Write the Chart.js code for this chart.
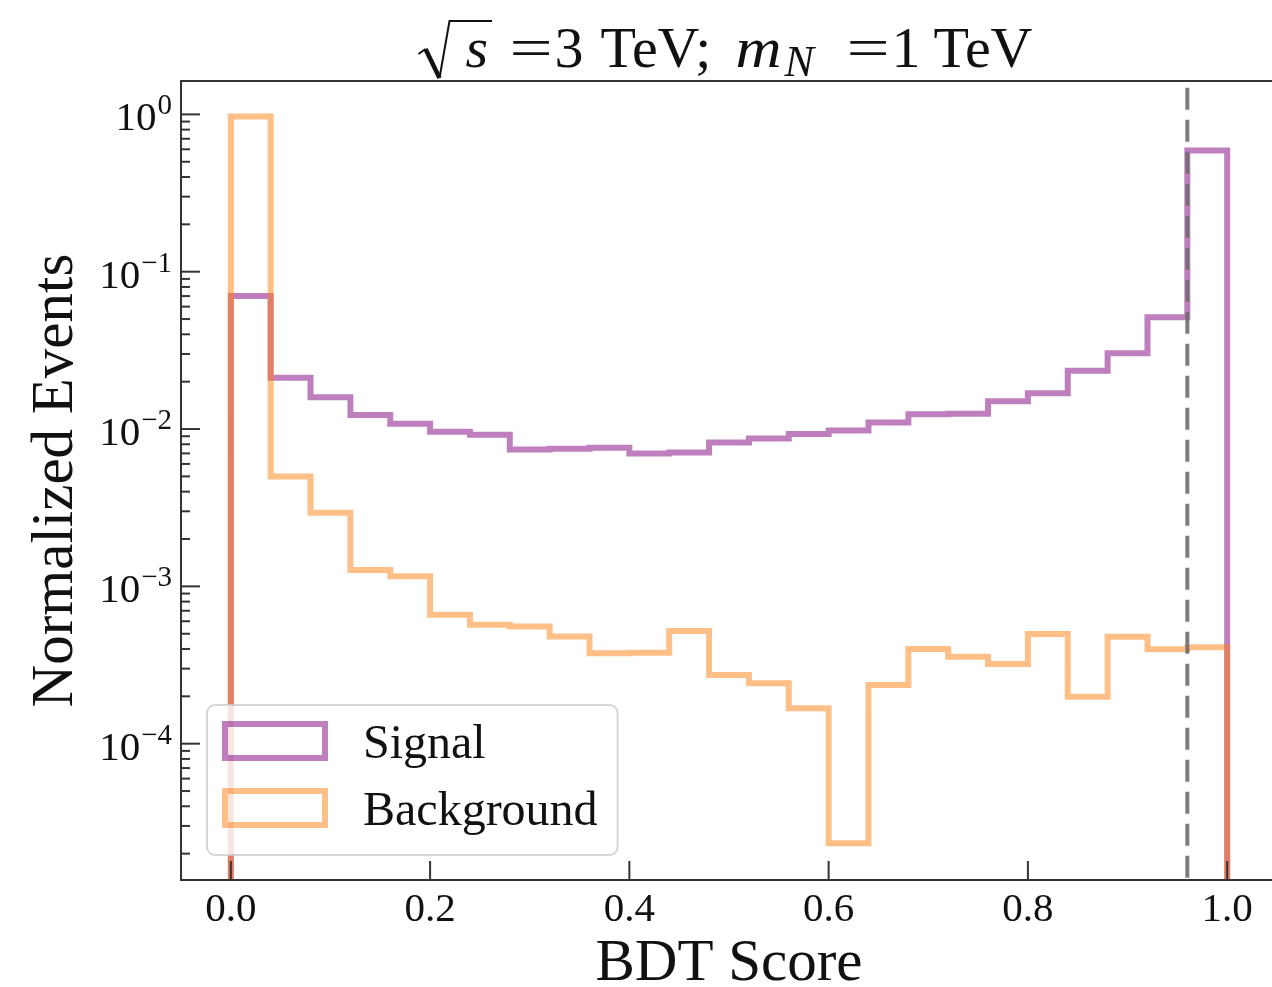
<!DOCTYPE html>
<html>
<head>
<meta charset="utf-8">
<script src="https://cdn.jsdelivr.net/npm/chart.js@4.4.1/dist/chart.umd.min.js"></script>
<style>
  html, body { margin: 0; padding: 0; overflow: hidden; background: #fff; }
  #wrap { position: absolute; left: 0; top: 0; width: 1290px; height: 987px; }
</style>
</head>
<body>
<div id="wrap"><canvas id="graficoBDT" width="1290" height="987"></canvas></div>
<script>
const binEdges = [0.00, 0.04, 0.08, 0.12, 0.16, 0.20, 0.24, 0.28, 0.32, 0.36, 0.40, 0.44, 0.48,
  0.52, 0.56, 0.60, 0.64, 0.68, 0.72, 0.76, 0.80, 0.84, 0.88, 0.92, 0.96, 1.00];
const signal = [0.070, 0.0212, 0.0159, 0.0123, 0.0108, 0.0096, 0.0092, 0.0074, 0.0075, 0.0076,
  0.0070, 0.0071, 0.0082, 0.0087, 0.0093, 0.0098, 0.0110, 0.0124, 0.0125, 0.0150, 0.0169,
  0.0235, 0.0303, 0.0514, 0.59];
const background = [0.97, 5.0e-3, 2.94e-3, 1.27e-3, 1.16e-3, 6.6e-4, 5.7e-4, 5.55e-4, 4.8e-4, 3.76e-4,
  3.79e-4, 5.2e-4, 2.73e-4, 2.42e-4, 1.68e-4, 2.33e-5, 2.36e-4, 4.0e-4, 3.57e-4, 3.21e-4,
  4.98e-4, 1.99e-4, 4.79e-4, 3.98e-4, 4.1e-4];
const seriesNames = ["Signal", "Background"];
const xTicks = [0.0, 0.2, 0.4, 0.6, 0.8, 1.0];
const yDecades = [0, -1, -2, -3, -4];
const cutValue = 0.96;
const xRange = [-0.05, 1.05];
const yRange = [1.36e-5, 1.63];

const piso = 1e-8; // por debajo del eje, se recorta

function pasos(valores) {
  const pts = [{ x: binEdges[0], y: piso }];
  valores.forEach((v, i) => {
    pts.push({ x: binEdges[i], y: v });
    pts.push({ x: binEdges[i + 1], y: v });
  });
  pts.push({ x: binEdges[binEdges.length - 1], y: piso });
  return pts;
}

const serif = '"Liberation Serif", "DejaVu Serif", serif';

function linea(ctx, x1, y1, x2, y2) {
  ctx.beginPath();
  ctx.moveTo(x1, y1);
  ctx.lineTo(x2, y2);
  ctx.stroke();
}

// --- Ejes, ticks, etiquetas, leyenda y título ---
const decoracion = {
  id: "decoracion",
  afterDatasetsDraw(chart) {
    const { ctx, chartArea: a, scales: { x, y } } = chart;
    ctx.save();

    // marco
    ctx.strokeStyle = "#333";
    ctx.lineWidth = 2;
    ctx.strokeRect(a.left, a.top, a.right - a.left, a.bottom - a.top);

    // ticks x (hacia dentro)
    ctx.fillStyle = "#111";
    ctx.font = "41px " + serif;
    ctx.textAlign = "center";
    ctx.textBaseline = "alphabetic";
    xTicks.forEach(v => {
      const px = x.getPixelForValue(v);
      linea(ctx, px, a.bottom, px, a.bottom - 19);
      ctx.fillText(v.toFixed(1), px, a.bottom + 41);
    });

    // ticks y mayores con etiquetas 10^n
    yDecades.forEach(d => {
      const py = y.getPixelForValue(Math.pow(10, d));
      linea(ctx, a.left, py, a.left + 19, py);
      const exp = d === 0 ? "0" : "\u2212" + Math.abs(d);
      ctx.font = "41px " + serif;
      const wBase = ctx.measureText("10").width;
      ctx.font = "29px " + serif;
      const wExp = ctx.measureText(exp).width;
      const x0 = a.left - 9 - wBase - wExp - 1;
      ctx.textAlign = "left";
      ctx.font = "41px " + serif;
      ctx.fillText("10", x0, py + 16);
      ctx.font = "29px " + serif;
      ctx.fillText(exp, x0 + wBase + 1, py);
    });

    // ticks y menores
    for (let d = -6; d <= 1; d++) {
      for (let m = 2; m <= 9; m++) {
        const v = m * Math.pow(10, d);
        if (v < yRange[0] || v > yRange[1]) continue;
        const py = y.getPixelForValue(v);
        linea(ctx, a.left, py, a.left + 9, py);
      }
    }

    // títulos de ejes
    ctx.font = "59px " + serif;
    ctx.textAlign = "center";
    ctx.fillText("BDT Score", (a.left + a.right) / 2, 980);
    ctx.save();
    ctx.translate(72, (a.top + a.bottom) / 2);
    ctx.rotate(-Math.PI / 2);
    ctx.fillText("Normalized Events", 0, 0);
    ctx.restore();

    // leyenda
    const items = chart.data.datasets.filter(ds => ds.label);
    ctx.font = "48px " + serif;
    const wTxt = Math.max(...items.map(it => ctx.measureText(it.label).width));
    const lx = a.left + 26;
    const lw = 156 + wTxt + 20;
    const lh = 150;
    const ly = a.bottom - 25 - lh;
    ctx.beginPath();
    ctx.roundRect(lx, ly, lw, lh, 8);
    ctx.fillStyle = "rgba(255,255,255,0.8)";
    ctx.fill();
    ctx.strokeStyle = "rgba(204,204,204,0.8)";
    ctx.lineWidth = 2;
    ctx.stroke();
    items.forEach((it, i) => {
      const cy = ly + 36 + i * 67;
      ctx.strokeStyle = it.borderColor;
      ctx.lineWidth = 6;
      ctx.lineJoin = "miter";
      ctx.strokeRect(lx + 18, cy - 17, 100, 34);
      ctx.fillStyle = "#111";
      ctx.textAlign = "left";
      ctx.fillText(it.label, lx + 156, cy + 17);
    });

    // título: √s =3 TeV; m_N =1 TeV
    const fs = 58;
    const rom = fs + "px " + serif;
    const ita = "italic " + fs + "px " + serif;
    const piezas = [
      { t: "s", f: ita, dx: 48, dy: 0 },
      { t: "=", f: rom, dx: 92, dy: 0, sx: 1.32 },
      { t: "3", f: rom, dx: 137, dy: 0 },
      { t: "TeV;", f: rom, dx: 183, dy: 0 },
      { t: "m", f: ita, dx: 318, dy: 0, sx: 1.1 },
      { t: "N", f: "italic 44px " + serif, dx: 367, dy: 9 },
      { t: "=", f: rom, dx: 429, dy: 0, sx: 1.32 },
      { t: "1", f: rom, dx: 474, dy: 0 },
      { t: "TeV", f: rom, dx: 516, dy: 0 }
    ];
    const ancho = 623;
    const base = 67;
    const t0 = (a.left + a.right) / 2 - ancho / 2;
    ctx.font = ita;
    const wS = ctx.measureText("s").width;
    // radical
    ctx.strokeStyle = "#111";
    ctx.fillStyle = "#111";
    ctx.lineJoin = "miter";
    ctx.lineWidth = 2;
    linea(ctx, t0 + 1, base - 13, t0 + 8, base - 18);
    ctx.lineWidth = 4.5;
    linea(ctx, t0 + 8, base - 18, t0 + 22, base + 11);
    ctx.lineWidth = 2;
    ctx.beginPath();
    ctx.moveTo(t0 + 22, base + 11);
    ctx.lineTo(t0 + 32, base - 46);
    ctx.lineTo(t0 + 48 + wS + 4, base - 46);
    ctx.stroke();
    ctx.textAlign = "left";
    piezas.forEach(p => {
      ctx.font = p.f;
      ctx.save();
      ctx.translate(t0 + p.dx, base + p.dy);
      ctx.scale(p.sx || 1, 1);
      ctx.fillText(p.t, 0, 0);
      ctx.restore();
    });

    ctx.restore();
  }
};

new Chart(document.getElementById("graficoBDT"), {
  type: "line",
  data: {
    datasets: [
      {
        label: "",
        data: [{ x: cutValue, y: 100 }, { x: cutValue, y: piso }],
        borderColor: "rgba(110,110,110,0.9)",
        borderWidth: 4,
        borderDash: [22, 10],
        pointRadius: 0,
        clip: 0,
        order: 0
      },
      {
        label: seriesNames[0],
        data: pasos(signal),
        borderColor: "rgba(128, 0, 128, 0.5)",
        backgroundColor: "rgba(0,0,0,0)",
        borderWidth: 6,
        pointRadius: 0,
        tension: 0,
        clip: 0,
        order: 2
      },
      {
        label: seriesNames[1],
        data: pasos(background),
        borderColor: "rgba(255, 127, 14, 0.5)",
        backgroundColor: "rgba(0,0,0,0)",
        borderWidth: 6,
        pointRadius: 0,
        tension: 0,
        clip: 0,
        order: 1
      }
    ]
  },
  options: {
    responsive: false,
    animation: false,
    layout: { padding: { left: 181, top: 81, right: 13, bottom: 107 } },
    plugins: { legend: { display: false }, tooltip: { enabled: false }, title: { display: false } },
    scales: {
      x: { type: "linear", min: xRange[0], max: xRange[1], display: false },
      y: { type: "logarithmic", min: yRange[0], max: yRange[1], display: false }
    }
  },
  plugins: [decoracion]
});
</script>
</body>
</html>
